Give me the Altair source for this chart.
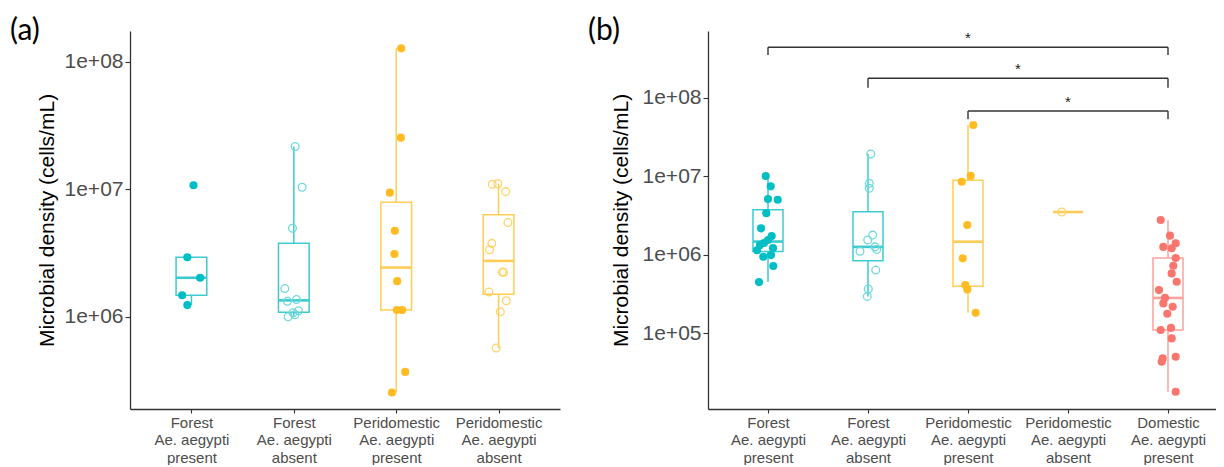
import json
import numpy as np
import pandas as pd
import altair as alt

# ---------------- data (cells/mL) ----------------
labels_a = ["Forest|Ae. aegypti|present", "Forest|Ae. aegypti|absent",
            "Peridomestic|Ae. aegypti|present", "Peridomestic|Ae. aegypti|absent"]
labels_b = labels_a + ["Domestic|Ae. aegypti|present"]

habitat_a = ["Forest", "Forest", "Peridomestic", "Peridomestic"]
habitat_b = habitat_a + ["Domestic"]
present_a = [True, False, True, False]
present_b = present_a + [True]

# panel (a)
a_vals = [
    [1.08e7, 2.94e6, 2.03e6, 1.48e6, 1.24e6],
    [2.17e7, 1.04e7, 4.97e6, 1.67e6, 1.33e6, 1.37e6, 1.12e6, 1.08e6, 1.005e6, 1.04e6],
    [1.28e8, 2.55e7, 9.44e6, 4.75e6, 3.12e6, 1.91e6, 1.135e6, 1.135e6, 3.71e5, 2.56e5],
    [1.10e7, 1.11e7, 9.62e6, 5.5e6, 3.78e6, 3.37e6, 2.25e6, 2.24e6, 1.57e6, 1.34e6, 1.10e6, 5.71e5],
]
a_jit = [
    [0.02, -0.04, 0.085, -0.09, -0.04],
    [0.013, 0.081, -0.013, -0.088, -0.062, 0.026, 0.046, -0.007, -0.056, 0.01],
    [0.049, 0.046, -0.062, -0.013, -0.017, 0.01, 0.007, 0.059, 0.088, -0.042],
    [-0.062, -0.007, 0.069, 0.091, -0.066, -0.088, 0.036, 0.049, -0.095, 0.075, 0.017, -0.023],
]

# panel (b)
b_vals = [
    [1.007e7, 7.43e6, 5.13e6, 5.02e6, 3.39e6, 2.17e6, 1.73e6, 1.33e6, 1.41e6, 1.54e6,
     1.22e6, 1.14e6, 9.91e5, 9.44e5, 7.18e5, 4.49e5],
    [1.92e7, 8.13e6, 7.03e6, 1.78e6, 1.54e6, 1.26e6, 1.17e6, 1.11e6, 6.38e5, 3.66e5, 2.95e5],
    [4.49e7, 1.01e7, 8.51e6, 2.39e6, 9.0e5, 4.11e5, 3.62e5, 1.82e5],
    [3.5e6],
    [2.77e6, 1.75e6, 1.40e6, 1.26e6, 1.21e6, 9.1e5, 7.24e5, 5.79e5, 4.53e5, 3.55e5, 2.82e5,
     2.40e5, 2.18e5, 1.77e5, 1.17e5, 1.10e5, 8.61e4, 5.02e4, 4.79e4, 4.34e4, 1.80e4],
]
b_jit = [
    [-0.023, 0.027, 0.0, 0.097, -0.017, -0.07, 0.037, -0.08, -0.04, 0.0, 0.05, -0.11,
     0.03, -0.047, 0.053, -0.09],
    [0.027, 0.013, 0.013, 0.047, -0.003, 0.07, 0.087, -0.08, 0.077, 0.003, -0.007],
    [0.053, 0.027, -0.063, -0.007, -0.053, -0.027, -0.007, 0.077],
    [-0.063],
    [-0.073, 0.02, 0.077, -0.047, 0.037, 0.077, 0.053, 0.037, 0.087, -0.09, -0.03, -0.047,
     0.047, -0.007, 0.03, -0.073, 0.037, 0.077, -0.053, -0.063, 0.077],
]

# significance brackets in panel (b): group index pairs
br_left = [1, 2, 3]
br_right = [5, 5, 5]
br_top = [10 ** 8.642, 10 ** 8.247, 10 ** 7.831]
br_tip = [10 ** 8.544, 10 ** 8.127, 10 ** 7.725]
br_label = ["*", "*", "*"]

# ---------------- styling ----------------
point_col = {"Forest": "#00BFC4", "Peridomestic": "#FFBC22", "Domestic": "#F8766D"}
open_col = {"Forest": "#6ED8DB", "Peridomestic": "#FFD266", "Domestic": "#F8766D"}
box_col = {"Forest": "#3DCBCF", "Peridomestic": "#FFCD55", "Domestic": "#F9A29C"}
FONT = "Liberation Sans"
BOXW = 0.15


def build(vals, jits, habitats, present):
    pts, boxes = [], []
    for i, (v, j, h, p) in enumerate(zip(vals, jits, habitats, present)):
        pos = i + 1
        for vv, jj in zip(v, j):
            pts.append({"x": pos + jj, "value": vv, "filled": p,
                        "color": point_col[h] if p else open_col[h]})
        lv = np.log10(np.array(v))
        q1, med, q3 = np.quantile(lv, [0.25, 0.5, 0.75])
        iqr = q3 - q1
        lo = lv[lv >= q1 - 1.5 * iqr].min()
        hi = lv[lv <= q3 + 1.5 * iqr].max()
        boxes.append({"pos": pos, "xl": pos - BOXW, "xr": pos + BOXW,
                      "lo": 10 ** lo, "q1": 10 ** q1, "med": 10 ** med,
                      "q3": 10 ** q3, "hi": 10 ** hi, "color": box_col[h]})
    return pd.DataFrame(pts), pd.DataFrame(boxes)


def panel(vals, jits, habitats, present, labels, xdom, ydom, yticks, w, h, tag,
          title_pad, brackets=None):
    pts, boxes = build(vals, jits, habitats, present)
    xaxis = alt.Axis(values=list(range(1, len(labels) + 1)),
                     labelExpr=f"split({json.dumps(labels)}[round(datum.value) - 1], '|')",
                     labelFontSize=15, labelLineHeight=17.5, labelColor="#4d4d4d",
                     labelFont=FONT, labelPadding=2, labelOverlap=False, labelFlush=False,
                     tickSize=4, tickColor="#333333", domainColor="#333333",
                     domainWidth=1.3, tickWidth=1.1, grid=False, title=None)
    yaxis = alt.Axis(values=yticks, labelExpr="'1e+0' + round(log(datum.value) / LN10)",
                     labelFontSize=21, labelColor="#4d4d4d", labelFont=FONT,
                     labelPadding=2, tickSize=5, tickColor="#333333",
                     domainColor="#333333", domainWidth=1.3, tickWidth=1.1, grid=False,
                     title="Microbial density (cells/mL)", titleFont=FONT,
                     titleFontSize=21, titleFontWeight="normal", titleColor="black",
                     titlePadding=title_pad)
    xs = alt.Scale(domain=xdom, nice=False, zero=False)
    ys = alt.Scale(type="log", domain=ydom, nice=False)

    def X(f):
        return alt.X(f, type="quantitative", scale=xs, axis=xaxis, title=None)

    def Y(f):
        return alt.Y(f, type="quantitative", scale=ys, axis=yaxis,
                     title="Microbial density (cells/mL)")

    whisk = alt.Chart(boxes).mark_rule(strokeWidth=1.5).encode(
        x=X("pos"), y=Y("lo"), y2="hi", color=alt.Color("color:N", scale=None))
    box = alt.Chart(boxes).mark_rect(fill="white", strokeWidth=1.5).encode(
        x=X("xl"), x2="xr", y=Y("q1"), y2="q3", stroke=alt.Stroke("color:N", scale=None))
    med = alt.Chart(boxes).mark_rule(strokeWidth=2.6).encode(
        x=X("xl"), x2="xr", y=Y("med"), color=alt.Color("color:N", scale=None))
    filled = alt.Chart(pts[pts["filled"]]).mark_point(
        filled=True, shape="circle", size=66, opacity=1).encode(
        x=X("x"), y=Y("value"), color=alt.Color("color:N", scale=None))
    hollow = alt.Chart(pts[~pts["filled"]]).mark_point(
        filled=False, shape="circle", size=60, strokeWidth=1.3, opacity=1).encode(
        x=X("x"), y=Y("value"), color=alt.Color("color:N", scale=None))
    tagtxt = alt.Chart(pd.DataFrame({"t": [tag]})).mark_text(
        align="left", baseline="top", fontSize=30, font="Lato", color="black").encode(
        x=alt.value(-120), y=alt.value(-15), text="t:N")
    layers = [whisk, box, med, filled, hollow, tagtxt]
    if brackets is not None:
        bdf = pd.DataFrame(brackets)
        bdf["mid"] = (bdf["l"] + bdf["r"]) / 2
        hline = alt.Chart(bdf).mark_rule(strokeWidth=1.4, color="#333333").encode(
            x=X("l"), x2="r", y=Y("top"))
        ltip = alt.Chart(bdf).mark_rule(strokeWidth=1.4, color="#333333").encode(
            x=X("l"), y=Y("top"), y2="tip")
        rtip = alt.Chart(bdf).mark_rule(strokeWidth=1.4, color="#333333").encode(
            x=X("r"), y=Y("top"), y2="tip")
        star = alt.Chart(bdf).mark_text(fontSize=15, font=FONT, color="#222222",
                                        baseline="alphabetic", dy=-4).encode(
            x=X("mid"), y=Y("top"), text="lab:N")
        layers += [hline, ltip, rtip, star]
    return alt.layer(*layers).properties(width=w, height=h)


pa = panel(a_vals, a_jit, habitat_a, present_a, labels_a, [0.4, 4.6],
           [10 ** 5.2784, 10 ** 8.243], [1e6, 1e7, 1e8], 430, 378, "(a)", 7)
pb = panel(b_vals, b_jit, habitat_b, present_b, labels_b, [0.4, 5.48],
           [10 ** 4.0357, 10 ** 8.8497], [1e5, 1e6, 1e7, 1e8], 508, 378, "(b)", 11,
           brackets={"l": br_left, "r": br_right, "top": br_top, "tip": br_tip,
                     "lab": br_label})

chart = alt.hconcat(pa, pb, spacing=28).properties(
    padding={"left": 2, "top": 8, "right": 0, "bottom": 0}).configure_view(stroke=None)
chart.save("out.html", embed_options={"renderer": "svg", "actions": False})
